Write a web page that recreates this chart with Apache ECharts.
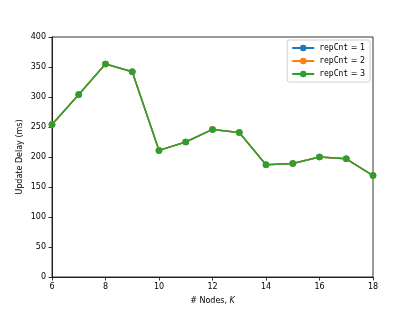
<!DOCTYPE html>
<html>
<head>
<meta charset="utf-8">
<script src="https://cdn.jsdelivr.net/npm/echarts@6/dist/echarts.min.js"></script>
<style>html,body{margin:0;padding:0;background:#fff}#c{width:415px;height:311px}</style>
</head>
<body>
<div id="c"></div>
<script>
const categories = [6, 7, 8, 9, 10, 11, 12, 13, 14, 15, 16, 17, 18];
const rep1 = [254, 304, 355, 342, 211, 225, 246, 241, 187, 189, 200, 197, 169];
const rep2 = [254, 304, 355, 342, 211, 225, 246, 241, 187, 189, 200, 197, 169];
const rep3 = [254, 304, 355, 342, 211, 225, 246, 241, 187, 189, 200, 197, 169];
const yTicks = [0, 50, 100, 150, 200, 250, 300, 350, 400];
const xTicks = [6, 8, 10, 12, 14, 16, 18];
const names = ['repCnt = 1', 'repCnt = 2', 'repCnt = 3'];
const colors = ['#1f77b4', '#ff7f0e', '#2ca02c'];

const chart = echarts.init(document.getElementById('c'), null, {renderer: 'canvas'});
const font = 'DejaVu Sans';
const fs = 8;
function mk(name, data, color) {
  return {
    name: name, type: 'line', data: data.map((v, i) => [categories[i], v]),
    symbol: 'circle', symbolSize: 6.5, color: color,
    lineStyle: {width: 1.5, color: color}, itemStyle: {color: color},
    animation: false
  };
}
chart.setOption({
  animation: false,
  grid: {left: 52, right: 42, top: 37, bottom: 34, show: true, borderColor: '#000', borderWidth: 0.8, backgroundColor: 'transparent'},
  legend: {
    right: 45, top: 40, orient: 'vertical', itemGap: 5, itemWidth: 22, itemHeight: 8,
    padding: [4, 5, 4, 4],
    borderColor: '#d0d0d0', borderWidth: 1, borderRadius: 2, backgroundColor: '#fff',
    data: names,
    formatter: function (n) { return '{m|repCnt}{n| = ' + n.slice(-1) + '}'; },
    textStyle: {
      rich: {
        m: {fontFamily: 'DejaVu Sans Mono', fontSize: fs, color: '#000'},
        n: {fontFamily: font, fontSize: fs, color: '#000'}
      }
    }
  },
  xAxis: {
    type: 'value', min: 6, max: 18, interval: 2,
    name: '# Nodes, {i|K}', nameLocation: 'middle', nameGap: 20, nameMoveOverlap: false,
    nameTextStyle: {fontFamily: font, fontSize: fs, color: '#000', rich: {i: {fontStyle: 'italic', fontFamily: font, fontSize: fs}}},
    axisLine: {lineStyle: {color: '#000', width: 0.8}},
    axisTick: {show: true, length: 3.5, lineStyle: {color: '#000', width: 0.8}},
    axisLabel: {fontFamily: font, fontSize: fs, color: '#000', margin: 6,
      formatter: function (v) { return xTicks.includes(v) ? String(v) : ''; }},
    splitLine: {show: false}
  },
  yAxis: {
    type: 'value', min: 0, max: 400, interval: 50,
    name: 'Update Delay (ms)', nameLocation: 'middle', nameGap: 28, nameMoveOverlap: false,
    nameTextStyle: {fontFamily: font, fontSize: fs, color: '#000'},
    axisLine: {show: true, lineStyle: {color: '#000', width: 0.8}},
    axisTick: {show: true, length: 3.5, lineStyle: {color: '#000', width: 0.8}},
    axisLabel: {fontFamily: font, fontSize: fs, color: '#000', margin: 6,
      formatter: function (v) { return yTicks.includes(v) ? String(v) : ''; }},
    splitLine: {show: false}
  },
  series: [mk(names[0], rep1, colors[0]), mk(names[1], rep2, colors[1]), mk(names[2], rep3, colors[2])]
});
</script>
</body>
</html>
